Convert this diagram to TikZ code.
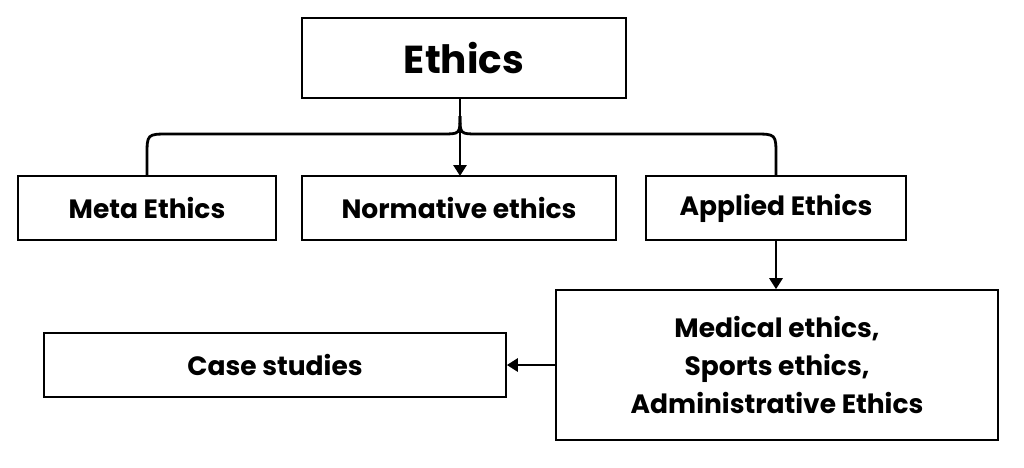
\documentclass[tikz,border=0pt]{standalone}
\usepackage{fontspec}
\setmainfont{Poppins}
\usetikzlibrary{arrows.meta}
\begin{document}
\begin{tikzpicture}[x=1pt,y=-1pt,
  box/.style={draw=black,line width=1.6pt,fill=white,inner sep=0pt,font=\bfseries\fontsize{26.5}{38}\selectfont,align=center},
  conn/.style={line width=2.8pt,black},
  arr/.style={conn,-{Triangle[length=11pt,width=13pt]}}]
\useasboundingbox (0,0) rectangle (1024,467);
\node[box,minimum width=324pt,minimum height=80pt,font=\bfseries\fontsize{39}{46}\selectfont] (eth) at (464,58) {Ethics};
\node[box,minimum width=258pt,minimum height=64pt] (meta) at (147,208) {Meta Ethics};
\node[box,minimum width=314pt,minimum height=64pt] (norm) at (459,208) {Normative ethics};
\node[box,minimum width=260pt,minimum height=64pt] (app) at (776,208) {Applied Ethics};
\node[box,minimum width=442pt,minimum height=150pt] (med) at (777,365) {Medical ethics,\\Sports ethics,\\Administrative Ethics};
\node[box,minimum width=462pt,minimum height=64pt] (case) at (275,365) {Case studies};
\coordinate (j) at (460,116);
\draw[conn] (460,98) -- (j);
\draw[conn] (j) .. controls (460,134) .. (442,134) -- (169,134) .. controls (147,134) .. (147,156) -- (147,176);
\draw[conn] (j) .. controls (460,134) .. (478,134) -- (754,134) .. controls (776,134) .. (776,156) -- (776,176);
\draw[arr] (j) -- (460,176);
\draw[arr] (app.south) -- (med.north -| app.south);
\draw[arr] (med.west) -- (case.east);
\end{tikzpicture}
\end{document}
